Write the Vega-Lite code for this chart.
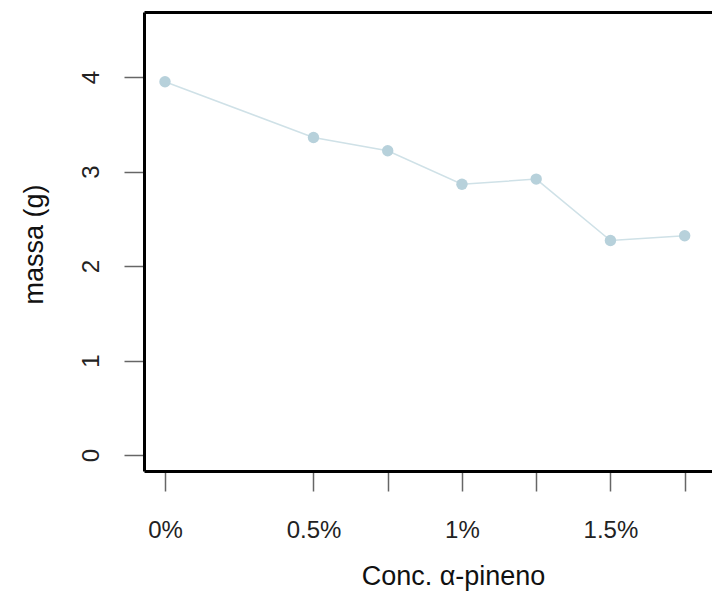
{
  "$schema": "https://vega.github.io/schema/vega-lite/v6.json",
  "width": 568,
  "height": 459,
  "autosize": "none",
  "padding": {"left": 144, "top": 12, "right": 0, "bottom": 120},
  "background": "white",
  "config": {"view": {"stroke": null}, "font": "Liberation Sans"},
  "data": {
    "values": [
      {"conc": 0, "massa": 3.95},
      {"conc": 0.5, "massa": 3.36},
      {"conc": 0.75, "massa": 3.22},
      {"conc": 1, "massa": 2.865},
      {"conc": 1.25, "massa": 2.92},
      {"conc": 1.5, "massa": 2.27},
      {"conc": 1.75, "massa": 2.32}
    ]
  },
  "encoding": {
    "x": {
      "field": "conc",
      "type": "quantitative",
      "scale": {"domain": [-0.0707, 1.842], "nice": false, "zero": false},
      "axis": {
        "values": [0, 0.5, 0.75, 1, 1.25, 1.5, 1.75],
        "labelExpr": "(datum.value*2)%1==0 ? datum.value+'%' : ''",
        "labelOverlap": false,
        "grid": false,
        "domainColor": "black",
        "domainWidth": 3,
        "tickColor": "#666666",
        "tickWidth": 1.5,
        "tickSize": 20,
        "labelFontSize": 24,
        "labelColor": "#222222",
        "labelBaseline": "alphabetic",
        "labelPadding": 46,
        "title": "Conc. α-pineno",
        "titleFontSize": 27,
        "titleFontWeight": "normal",
        "titleColor": "#111111",
        "titleX": 309,
        "titleY": 113,
        "titleAlign": "center",
        "titleBaseline": "alphabetic"
      }
    },
    "y": {
      "field": "massa",
      "type": "quantitative",
      "scale": {"domain": [-0.169, 4.688], "nice": false, "zero": false},
      "axis": {
        "values": [0, 1, 2, 3, 4],
        "grid": false,
        "domainColor": "black",
        "domainWidth": 3,
        "tickColor": "#666666",
        "tickWidth": 1.5,
        "tickSize": 20,
        "labelFontSize": 24,
        "labelColor": "#222222",
        "labelAngle": 270,
        "labelAlign": "center",
        "labelBaseline": "alphabetic",
        "labelPadding": 26,
        "title": "massa (g)",
        "titleFontSize": 27,
        "titleFontWeight": "normal",
        "titleColor": "#111111",
        "titleAngle": 270,
        "titleX": -102,
        "titleY": 232,
        "titleAlign": "center",
        "titleBaseline": "alphabetic"
      }
    }
  },
  "layer": [
    {
      "mark": {"type": "line", "color": "#cfe1e7", "strokeWidth": 1.5}
    },
    {
      "mark": {"type": "point", "filled": true, "color": "#b7d1db", "size": 130, "opacity": 1},
      "encoding": {
        "x": {
          "field": "conc",
          "type": "quantitative",
          "axis": {
            "orient": "top",
            "labels": false,
            "ticks": false,
            "title": null,
            "grid": false,
            "domainColor": "black",
            "domainWidth": 3
          }
        }
      }
    }
  ],
  "resolve": {"axis": {"x": "independent"}}
}
